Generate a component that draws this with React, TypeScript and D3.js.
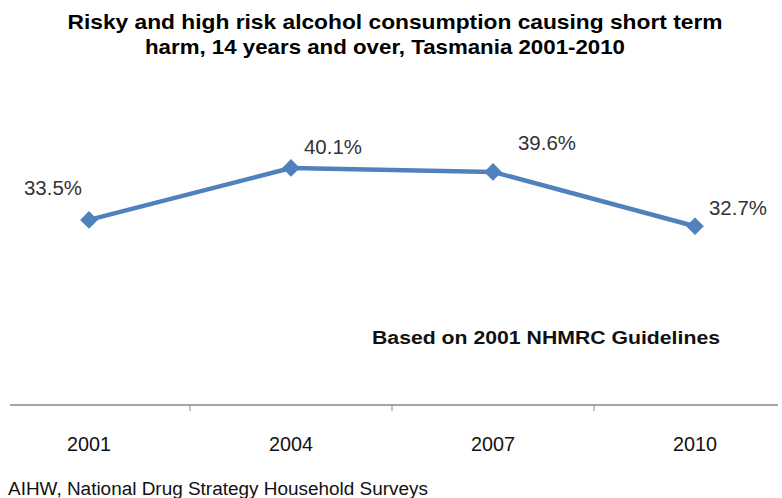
import React from "react";
import * as d3 from "d3";

const categories = ["2001", "2004", "2007", "2010"];
const values = [33.5, 40.1, 39.6, 32.7];
const valueLabels = ["33.5%", "40.1%", "39.6%", "32.7%"];
const titleLines = [
  "Risky and high risk alcohol consumption causing short term",
  "harm, 14 years and over, Tasmania 2001-2010",
];
const note = "Based on 2001 NHMRC Guidelines";
const source = "AIHW, National Drug Strategy Household Surveys";

const W = 782;
const H = 498;

export default function App() {
  const x = d3.scaleBand<string>().domain(categories).range([-12, 796]);
  const y = d3.scaleLinear().domain([10, 50]).range([405, 90]);
  const cx = (c: string) => (x(c) as number) + x.bandwidth() / 2;
  const line = d3
    .line<number>()
    .x((_, i) => cx(categories[i]))
    .y((d) => y(d));
  const diamond = d3.symbol().type(d3.symbolDiamond2).size(200)();
  const tickXs = categories.slice(1).map((c) => x(c) as number);
  const labelOffsets = [
    [-36, -25],
    [42, -14],
    [54, -22],
    [43, -11],
  ];
  return (
    <svg
      width={W}
      height={H}
      style={{ position: "absolute", left: 0, top: 0, background: "#fff" }}
      fontFamily="Liberation Sans, Arial, sans-serif"
    >
      <rect width={W} height={H} fill="#fff" />
      {titleLines.map((t, i) => (
        <text
          key={i}
          x={i === 0 ? 395 : 385}
          y={29 + i * 25}
          textAnchor="middle"
          fontWeight="bold"
          fontSize={21}
          textLength={i === 0 ? 655 : 480}
          lengthAdjust="spacingAndGlyphs"
          fill="#000"
        >
          {t}
        </text>
      ))}
      <path
        d={line(values) || ""}
        fill="none"
        stroke="#4F81BD"
        strokeWidth={4.5}
        strokeLinejoin="round"
      />
      {values.map((v, i) => (
        <path
          key={i}
          d={diamond || ""}
          transform={`translate(${cx(categories[i])},${y(v)})`}
          fill="#4F81BD"
        />
      ))}
      {values.map((v, i) => (
        <text
          key={i}
          x={cx(categories[i]) + labelOffsets[i][0]}
          y={y(v) + labelOffsets[i][1]}
          textAnchor="middle"
          fontSize={20}
          fill="#333"
          textLength={58}
          lengthAdjust="spacingAndGlyphs"
        >
          {valueLabels[i]}
        </text>
      ))}
      <text
        x={372}
        y={344}
        fontWeight="bold"
        fontSize={18}
        fill="#111"
        textLength={348}
        lengthAdjust="spacingAndGlyphs"
      >
        {note}
      </text>
      <line x1={10} x2={778} y1={y(10)} y2={y(10)} stroke="#888" strokeWidth={1.3} />
      {tickXs.map((t, i) => (
        <line key={i} x1={t} x2={t} y1={y(10)} y2={y(10) + 6} stroke="#888" strokeWidth={1} />
      ))}
      {categories.map((c) => (
        <text
          key={c}
          x={cx(c)}
          y={451}
          textAnchor="middle"
          fontSize={21}
          fill="#111"
          textLength={44}
          lengthAdjust="spacingAndGlyphs"
        >
          {c}
        </text>
      ))}
      <text
        x={8}
        y={495}
        fontSize={18}
        fill="#111"
        textLength={420}
        lengthAdjust="spacingAndGlyphs"
      >
        {source}
      </text>
    </svg>
  );
}
